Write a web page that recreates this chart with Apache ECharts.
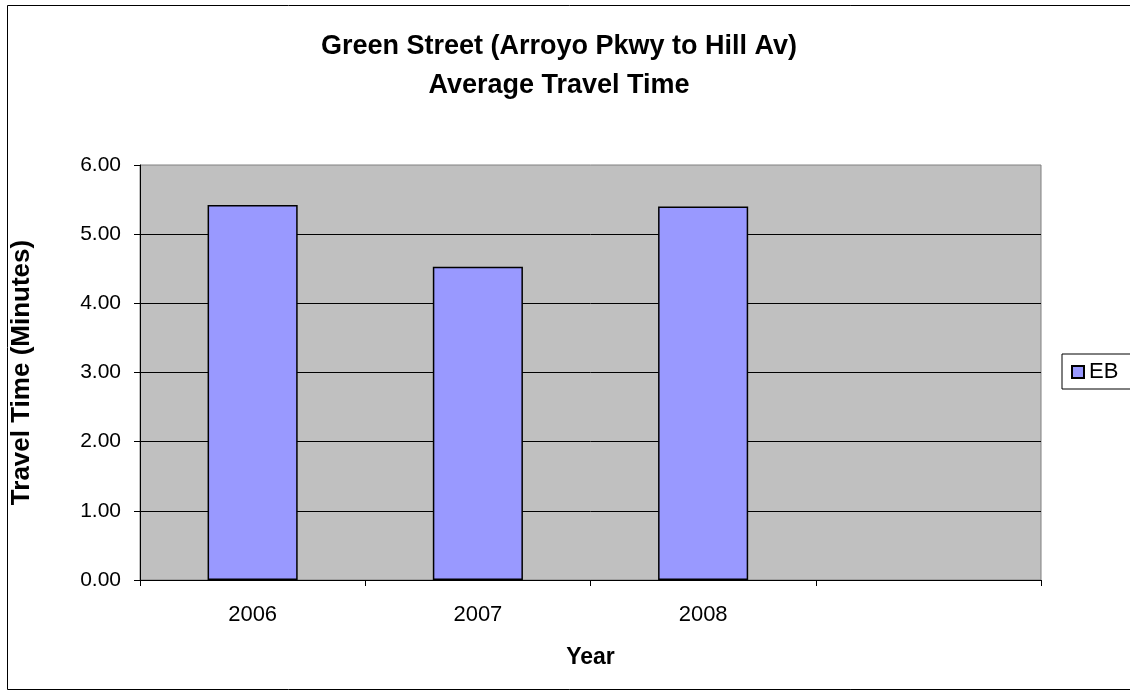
<!DOCTYPE html>
<html>
<head>
<meta charset="utf-8">
<script src="https://cdn.jsdelivr.net/npm/echarts@6/dist/echarts.min.js"></script>
<style>
  html, body { margin: 0; padding: 0; background: #fff; }
  #chart { width: 1130px; height: 698px; }
</style>
</head>
<body>
<div id="chart"></div>
<script>
var years = ["2006", "2007", "2008", ""];
var ebValues = [5.42, 4.53, 5.40, null];
var yTicks = [0, 1, 2, 3, 4, 5, 6];

var myChart = echarts.init(document.getElementById("chart"));
var font = "Liberation Sans, Arial, sans-serif";

var option = {
    backgroundColor: "#ffffff",
    animation: false,
    textStyle: { fontFamily: font, color: "#000" },
    graphic: [
        {
            type: "rect",
            shape: { x: 7.5, y: 5.5, width: 1140, height: 684 },
            style: { fill: null, stroke: "#000", lineWidth: 1 },
            z: -1
        }
    ],
    title: {
        text: "Green Street (Arroyo Pkwy to Hill Av)\nAverage Travel Time",
        left: 554,
        textAlign: "center",
        top: 22,
        textStyle: {
            fontFamily: font,
            fontSize: 27,
            fontWeight: "bold",
            lineHeight: 39,
            color: "#000"
        }
    },
    legend: {
        data: ["EB"],
        icon: "rect",
        left: 1062,
        top: 354,
        orient: "vertical",
        padding: [7, 30, 6, 9],
        borderColor: "#000",
        borderWidth: 1,
        itemWidth: 12,
        itemHeight: 12,
        itemGap: 6,
        textStyle: { fontFamily: font, fontSize: 22, color: "#000" }
    },
    grid: {
        left: 140,
        right: 89,
        top: 165,
        bottom: 118,
        show: true,
        backgroundColor: "#c0c0c0",
        borderColor: "#808080",
        borderWidth: 1
    },
    xAxis: {
        type: "category",
        data: years,
        name: "Year",
        nameLocation: "middle",
        nameGap: 66,
        nameTextStyle: { fontFamily: font, fontSize: 23, fontWeight: "bold", color: "#000" },
        axisLine: { lineStyle: { color: "#000", width: 1 } },
        axisTick: { show: true, length: 6, alignWithLabel: false, lineStyle: { color: "#000" } },
        axisLabel: { margin: 24, fontFamily: font, fontSize: 22, color: "#000" }
    },
    yAxis: {
        type: "value",
        min: 0,
        max: yTicks[yTicks.length - 1],
        interval: 1,
        name: "Travel Time (Minutes)",
        nameLocation: "middle",
        nameGap: 105,
        nameTextStyle: { fontFamily: font, fontSize: 26, fontWeight: "bold", color: "#000" },
        axisLine: { show: true, lineStyle: { color: "#000", width: 1 } },
        axisTick: { show: true, length: 6, lineStyle: { color: "#000" } },
        axisLabel: {
            margin: 19,
            fontFamily: font,
            fontSize: 21,
            color: "#000",
            formatter: function (v) { return v.toFixed(2); }
        },
        splitLine: { show: true, showMaxLine: false, lineStyle: { color: "#000", width: 1 } }
    },
    series: [
        {
            name: "EB",
            type: "bar",
            data: ebValues,
            barWidth: "40%",
            itemStyle: { color: "#9999ff", borderColor: "#000", borderWidth: 1.5 }
        }
    ]
};
myChart.setOption(option);
</script>
</body>
</html>
